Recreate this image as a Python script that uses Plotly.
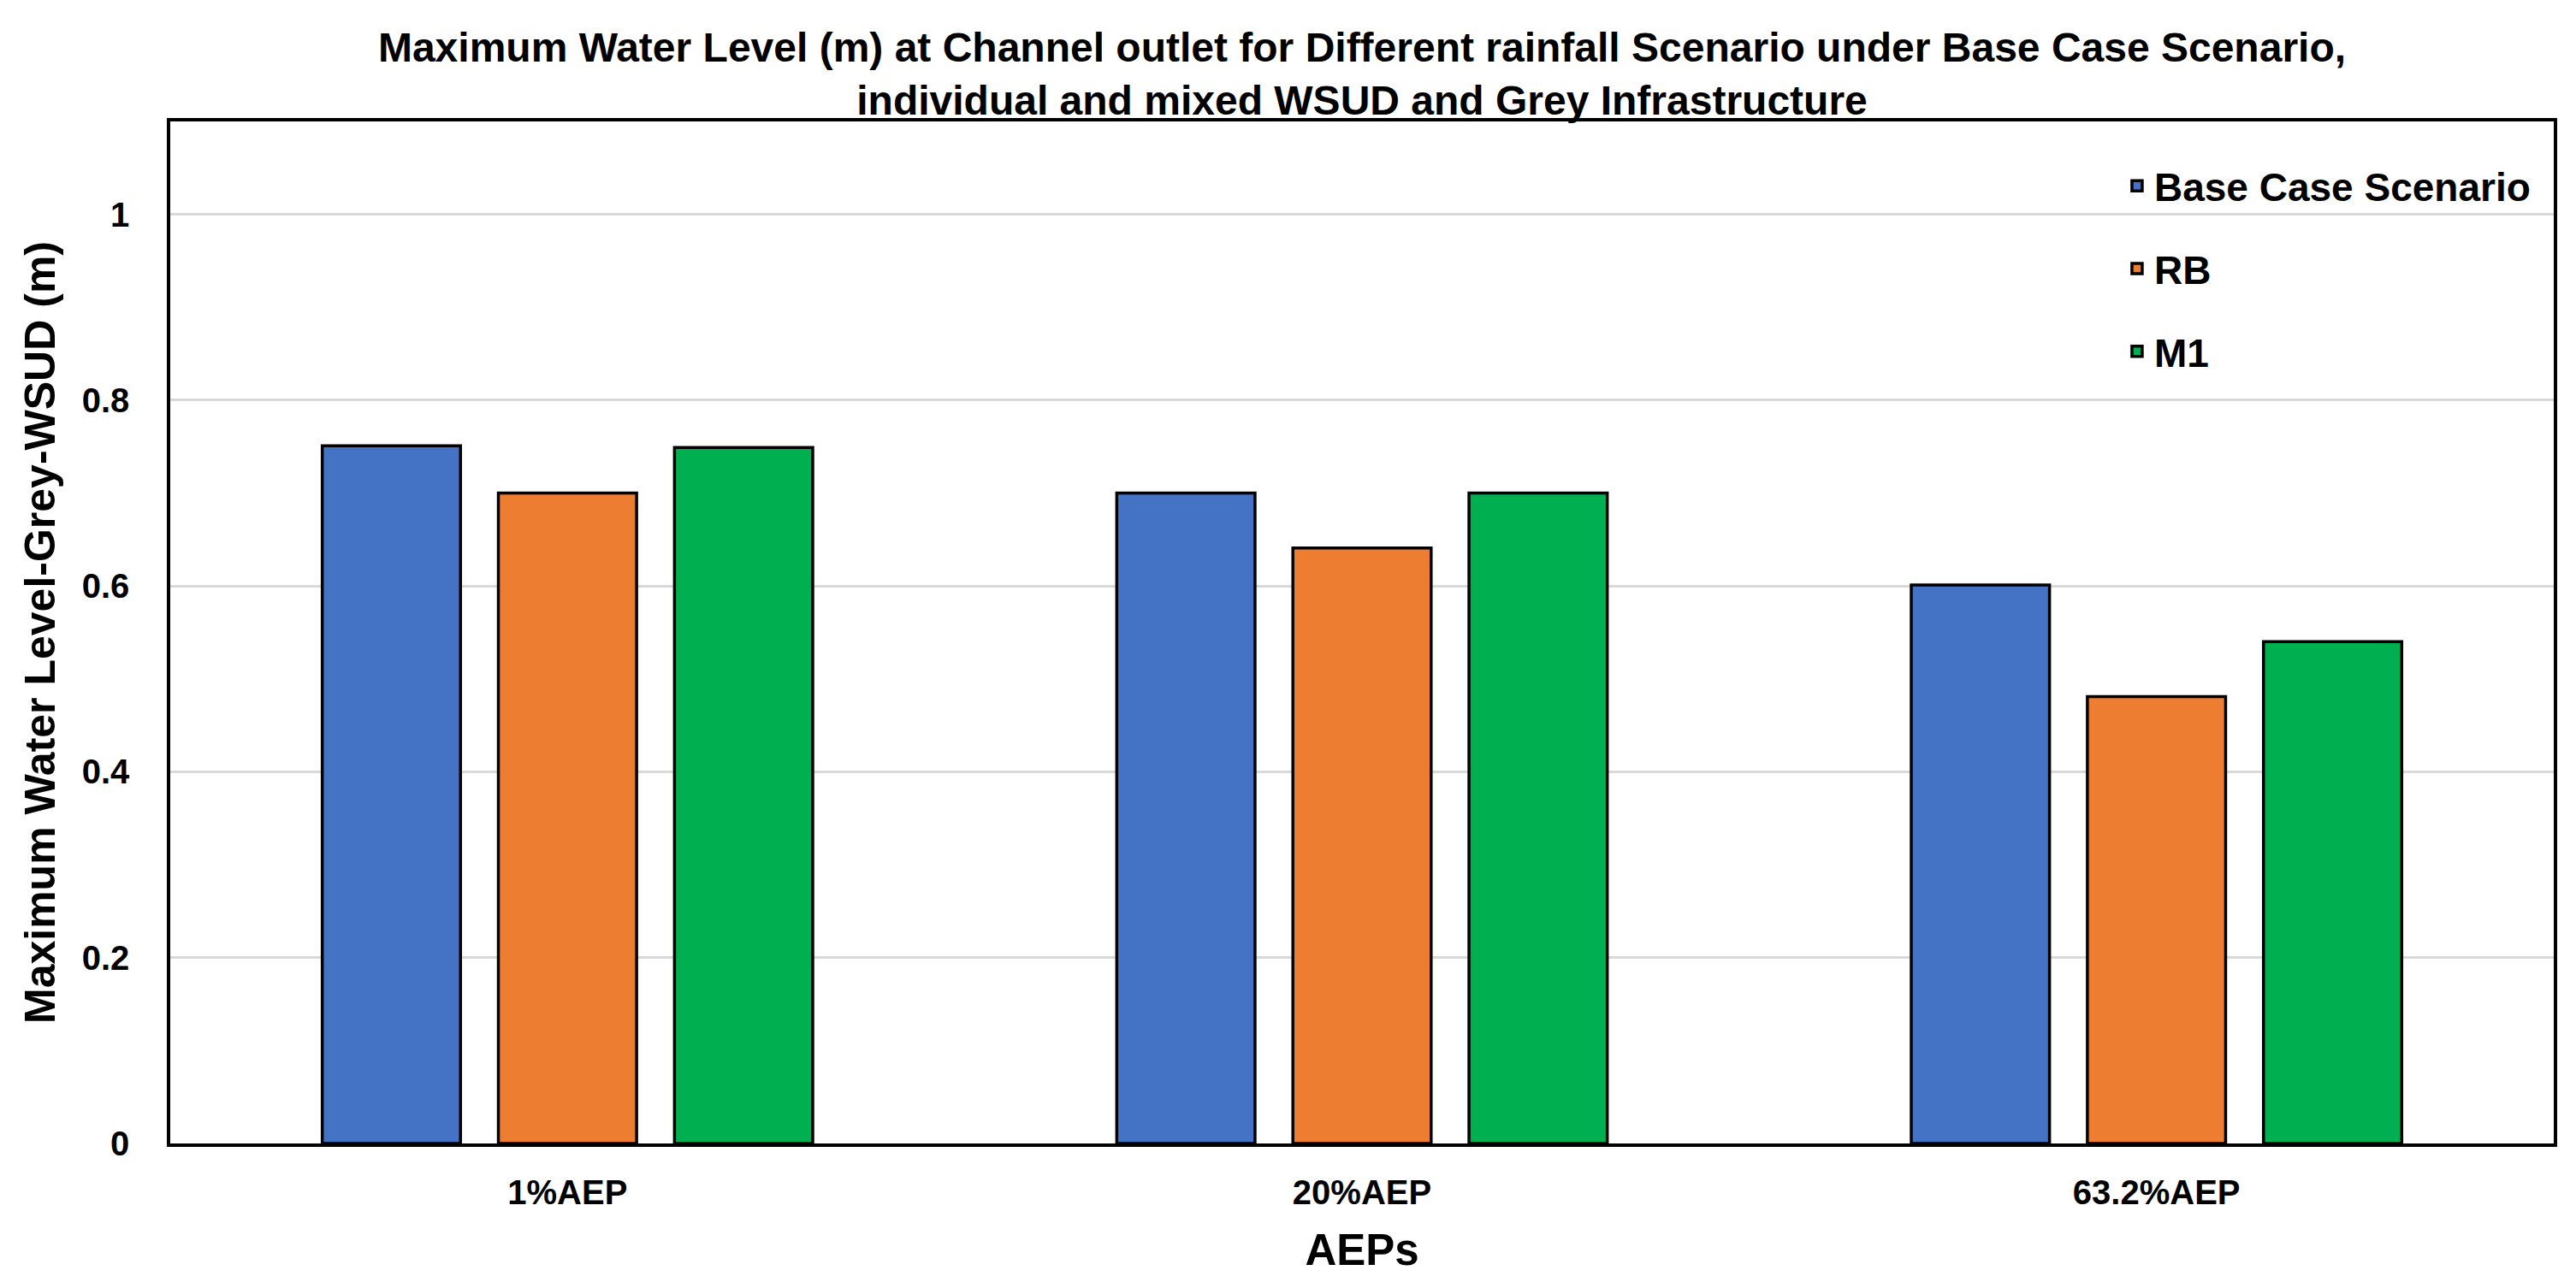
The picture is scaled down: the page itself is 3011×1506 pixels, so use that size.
import plotly.graph_objects as go

categories = ["1%AEP", "20%AEP", "63.2%AEP"]
base_case = [0.751, 0.700, 0.601]
rb = [0.700, 0.641, 0.481]
m1 = [0.749, 0.700, 0.540]
series_names = ["Base Case Scenario", "RB", "M1"]
series_colors = ["#4472C4", "#ED7D31", "#00B050"]
y_tickvals = [0, 0.2, 0.4, 0.6, 0.8, 1.0]
y_ticktext = ["0", "0.2", "0.4", "0.6", "0.8", "1"]

FONT = "Liberation Sans, Arial, sans-serif"

fig = go.Figure()
for i, (name, vals, col) in enumerate(zip(series_names, [base_case, rb, m1], series_colors)):
    fig.add_trace(go.Bar(
        x=categories, y=vals, name=name, legendgroup=f"g{i}",
        marker=dict(color=col, line=dict(color="black", width=3.5)),
    ))

W, H = 2995, 1490
fig.update_layout(
    width=W, height=H,
    paper_bgcolor="white", plot_bgcolor="white",
    margin=dict(l=191, r=18, t=134, b=161, autoexpand=False),
    barmode="group", bargap=0.335, bargroupgap=0.215,
    font=dict(family=FONT, size=40, color="black", weight="bold"),
    title=dict(
        text="Maximum Water Level (m) at Channel outlet for Different rainfall Scenario under Base Case Scenario,<br>individual and mixed WSUD and Grey Infrastructure",
        x=0.5, xref="paper", xanchor="center",
        y=1 - 64 / H, yref="container", yanchor="middle",
        font=dict(family=FONT, size=48, color="black", weight="bold"),
    ),
    legend=dict(
        x=0.818, xanchor="left", y=0.9675, yanchor="top",
        bgcolor="rgba(0,0,0,0)", borderwidth=0,
        font=dict(family=FONT, size=46, color="black", weight="bold"),
        tracegroupgap=34, traceorder="grouped",
    ),
    showlegend=True,
)

fig.update_xaxes(
    automargin=False,
    showline=True, linecolor="black", linewidth=3.5, mirror=True,
    showgrid=False, ticks="", ticklabelstandoff=19,
    tickfont=dict(family=FONT, size=40, color="black", weight="bold"),
    title=dict(text="AEPs", standoff=30,
               font=dict(family=FONT, size=51, color="black", weight="bold")),
)
fig.update_yaxes(
    automargin=False,
    range=[0, 1.1], tickvals=y_tickvals, ticktext=y_ticktext,
    showline=True, linecolor="black", linewidth=3.5, mirror=True,
    showgrid=True, gridcolor="#D9D9D9", gridwidth=3, zeroline=False,
    ticks="", ticklabelstandoff=36,
    tickfont=dict(family=FONT, size=40, color="black", weight="bold"),
    title=dict(text="Maximum Water Level-Grey-WSUD (m)", standoff=16,
               font=dict(family=FONT, size=50, color="black", weight="bold")),
)

fig.write_html("out.html")
